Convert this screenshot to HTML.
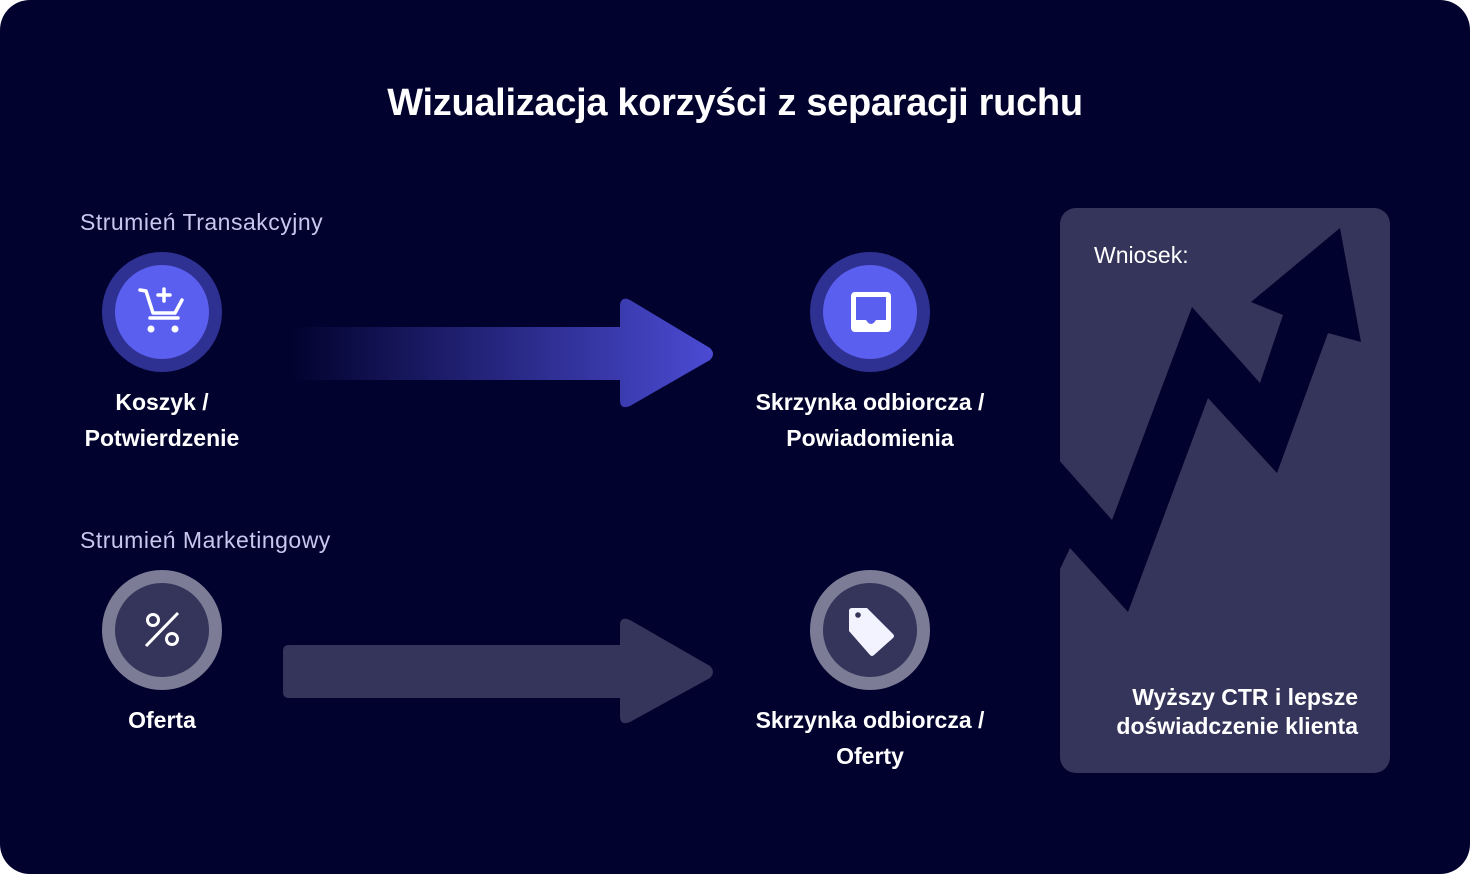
<!DOCTYPE html>
<html><head><meta charset="utf-8"><style>
html,body{margin:0;padding:0;background:#fff;}
#c{position:relative;width:1470px;height:874px;background:#02022e;border-radius:30px;overflow:hidden;font-family:"Liberation Sans",sans-serif;color:#fff;}
.t{position:absolute;white-space:nowrap;}
</style></head><body><div id="c">
<div class="t" style="left:0;width:1470px;text-align:center;top:82px;font-size:38px;font-weight:bold;letter-spacing:-0.3px;">Wizualizacja korzyści z separacji ruchu</div>
<div class="t" style="left:80px;top:209px;font-size:23px;color:#c8c8ee;letter-spacing:0.5px;">Strumień Transakcyjny</div>
<div class="t" style="left:80px;top:527px;font-size:23px;color:#c8c8ee;letter-spacing:0.5px;">Strumień Marketingowy</div>
<svg width="1470" height="874" style="position:absolute;left:0;top:0">
<defs><linearGradient id="g" x1="290" y1="0" x2="714" y2="0" gradientUnits="userSpaceOnUse"><stop offset="0" stop-color="#02022e"/><stop offset="1" stop-color="#4b4bd4"/></linearGradient>
<clipPath id="pc"><rect x="1060" y="208" width="330" height="565" rx="16"/></clipPath></defs>
<path d="M290 327 H620 V304 Q622 296 630 300 L710 348 Q716 354 710 360 L630 406 Q620 410 620 400 V380 H290 Z" fill="url(#g)"/>
<path d="M289 645 H620 V624 Q621 616 630 620 L710 666 Q716 672 710 678 L630 722 Q620 726 620 716 V698 H289 Q283 698 283 692 V651 Q283 645 289 645 Z" fill="#35345a"/>
<circle cx="162" cy="312" r="60" fill="#2e3192"/><circle cx="162" cy="312" r="47" fill="#5b5ff0"/>
<circle cx="870" cy="312" r="60" fill="#2e3192"/><circle cx="870" cy="312" r="47" fill="#5b5ff0"/>
<circle cx="162" cy="630" r="60" fill="#7c7c96"/><circle cx="162" cy="630" r="47" fill="#35345a"/>
<circle cx="870" cy="630" r="60" fill="#7c7c96"/><circle cx="870" cy="630" r="47" fill="#35345a"/>
<g fill="none" stroke="#fff" stroke-width="3.5" stroke-linecap="round" stroke-linejoin="round">
<path d="M140 290 L146 291 L153 313 H175 L182 300"/><path d="M150 318 H178"/><path d="M164 289 V301 M158 295 H170"/></g>
<circle cx="151" cy="329" r="3.5" fill="#fff"/><circle cx="175" cy="329" r="3.5" fill="#fff"/>
<rect x="851" y="292" width="40" height="40" rx="4" fill="#fff"/>
<path d="M856 297 H886 V320 H876 Q871 328 866 320 H856 Z" fill="#5b5ff0"/>
<g fill="none" stroke="#fff" stroke-width="3"><circle cx="153" cy="620" r="5.5"/><circle cx="172" cy="639" r="5.5"/><path d="M146 646 L178 613"/></g>
<path d="M852 608 H867 L893 634 Q895 636 893 638 L874 655 Q872 657 870 655 L849 631 V611 Q849 608 852 608 Z" fill="#f3f3ff"/>
<circle cx="858" cy="615" r="2.8" fill="#35345a"/>
<rect x="1060" y="208" width="330" height="565" rx="16" fill="#35345a"/>
<polygon clip-path="url(#pc)" fill="#02022e" points="1050,450 1112,520 1192,307 1260,383 1283,315 1251,302 1340,228 1361,342 1328,333 1277,473 1208,398 1128,612 1070,548 1050,590"/>
</svg>
<div class="t" style="left:0;width:324px;text-align:center;top:384px;font-size:23px;font-weight:bold;line-height:36px;">Koszyk /<br>Potwierdzenie</div>
<div class="t" style="left:720px;width:300px;text-align:center;top:384px;font-size:23px;font-weight:bold;line-height:36px;">Skrzynka odbiorcza /<br>Powiadomienia</div>
<div class="t" style="left:0;width:324px;text-align:center;top:707px;font-size:23px;font-weight:bold;">Oferta</div>
<div class="t" style="left:720px;width:300px;text-align:center;top:702px;font-size:23px;font-weight:bold;line-height:36px;">Skrzynka odbiorcza /<br>Oferty</div>
<div class="t" style="left:1094px;top:242px;font-size:23px;">Wniosek:</div>
<div class="t" style="left:1060px;width:298px;text-align:right;top:683px;font-size:23px;font-weight:bold;line-height:29px;">Wyższy CTR i lepsze<br>doświadczenie klienta</div>
</div></body></html>
